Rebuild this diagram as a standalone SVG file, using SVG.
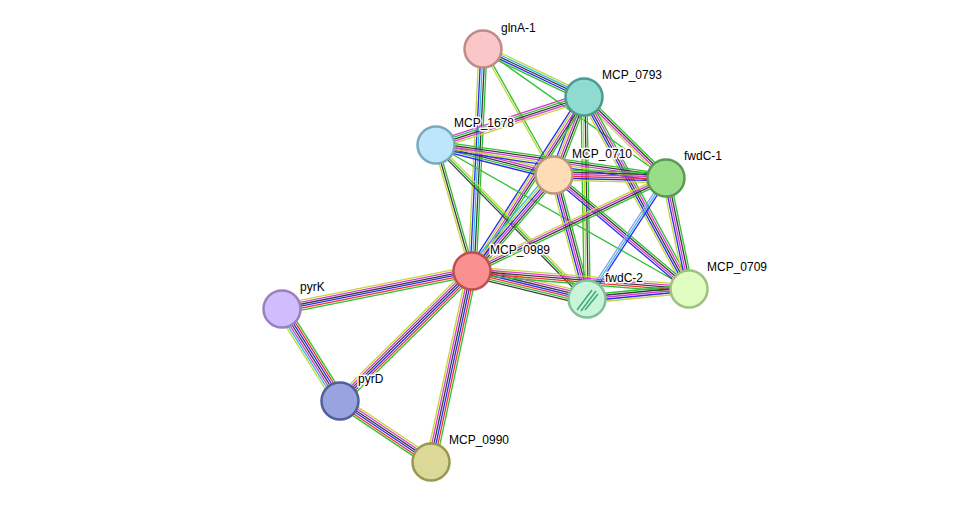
<svg xmlns="http://www.w3.org/2000/svg" width="976" height="507" viewBox="0 0 976 507">
<style>
line{stroke-width:1.3;fill:none}
.y{stroke:#c4d63a}.m{stroke:#d63cd6}.k{stroke:#3c3c3c}.b{stroke:#2a2af0}.r{stroke:#f03030}.g{stroke:#30c030}.c{stroke:#30c0e0}
circle{stroke-width:2.5}
text{font-family:"Liberation Sans",Arial,sans-serif;font-size:12px;fill:#000;paint-order:stroke;stroke:#fff;stroke-width:3px;stroke-linejoin:round}
</style>
<rect width="976" height="507" fill="#fff"/>
<g id="edges">
<g transform="translate(483,49) rotate(25.4)"><line class="y" x1="0" y1="-4" x2="111.8" y2="-4"/><line class="c" x1="0" y1="-2" x2="111.8" y2="-2"/><line class="k" x1="0" y1="0" x2="111.8" y2="0"/><line class="b" x1="0" y1="2" x2="111.8" y2="2"/><line class="g" x1="0" y1="4" x2="111.8" y2="4"/></g>
<g transform="translate(483,49) rotate(60.6)"><line class="g" x1="0" y1="-1" x2="144.6" y2="-1"/><line class="y" x1="0" y1="1" x2="144.6" y2="1"/></g>
<g transform="translate(483,49) rotate(92.8)"><line class="g" x1="0" y1="-4" x2="222.3" y2="-4"/><line class="k" x1="0" y1="-2" x2="222.3" y2="-2"/><line class="c" x1="0" y1="0" x2="222.3" y2="0"/><line class="b" x1="0" y1="2" x2="222.3" y2="2"/><line class="y" x1="0" y1="4" x2="222.3" y2="4"/></g>
<g transform="translate(483,49) rotate(35.2)"><line class="g" x1="0" y1="0" x2="223.9" y2="0"/></g>
<g transform="translate(584,97) rotate(162)"><line class="y" x1="0" y1="-4" x2="155.6" y2="-4"/><line class="m" x1="0" y1="-2" x2="155.6" y2="-2"/><line class="k" x1="0" y1="0" x2="155.6" y2="0"/><line class="g" x1="0" y1="2" x2="155.6" y2="2"/><line class="m" x1="0" y1="4" x2="155.6" y2="4"/></g>
<g transform="translate(584,97) rotate(111)"><line class="g" x1="0" y1="-4" x2="83.6" y2="-4"/><line class="k" x1="0" y1="-2" x2="83.6" y2="-2"/><line class="m" x1="0" y1="0" x2="83.6" y2="0"/><line class="y" x1="0" y1="2" x2="83.6" y2="2"/><line class="b" x1="0" y1="4" x2="83.6" y2="4"/></g>
<g transform="translate(584,97) rotate(44.6)"><line class="g" x1="0" y1="-3" x2="115.3" y2="-3"/><line class="k" x1="0" y1="-1" x2="115.3" y2="-1"/><line class="m" x1="0" y1="1" x2="115.3" y2="1"/><line class="y" x1="0" y1="3" x2="115.3" y2="3"/></g>
<g transform="translate(584,97) rotate(122.8)"><line class="g" x1="0" y1="-4" x2="206.9" y2="-4"/><line class="k" x1="0" y1="-2" x2="206.9" y2="-2"/><line class="m" x1="0" y1="0" x2="206.9" y2="0"/><line class="y" x1="0" y1="2" x2="206.9" y2="2"/><line class="b" x1="0" y1="4" x2="206.9" y2="4"/></g>
<g transform="translate(584,97) rotate(89.1)"><line class="g" x1="0" y1="-3" x2="202" y2="-3"/><line class="k" x1="0" y1="-1" x2="202" y2="-1"/><line class="y" x1="0" y1="1" x2="202" y2="1"/><line class="g" x1="0" y1="3" x2="202" y2="3"/></g>
<g transform="translate(584,97) rotate(61.3)"><line class="g" x1="0" y1="-4" x2="218.8" y2="-4"/><line class="m" x1="0" y1="-2" x2="218.8" y2="-2"/><line class="k" x1="0" y1="0" x2="218.8" y2="0"/><line class="b" x1="0" y1="2" x2="218.8" y2="2"/><line class="y" x1="0" y1="4" x2="218.8" y2="4"/></g>
<g transform="translate(436,145) rotate(14.3)"><line class="y" x1="0" y1="-4" x2="121.8" y2="-4"/><line class="m" x1="0" y1="-2" x2="121.8" y2="-2"/><line class="k" x1="0" y1="0" x2="121.8" y2="0"/><line class="g" x1="0" y1="2" x2="121.8" y2="2"/><line class="b" x1="0" y1="4" x2="121.8" y2="4"/></g>
<g transform="translate(436,145) rotate(8.2)"><line class="g" x1="0" y1="-4" x2="232.4" y2="-4"/><line class="k" x1="0" y1="-2" x2="232.4" y2="-2"/><line class="m" x1="0" y1="0" x2="232.4" y2="0"/><line class="y" x1="0" y1="2" x2="232.4" y2="2"/><line class="b" x1="0" y1="4" x2="232.4" y2="4"/></g>
<g transform="translate(436,145) rotate(74.1)"><line class="g" x1="0" y1="-2" x2="131" y2="-2"/><line class="k" x1="0" y1="0" x2="131" y2="0"/><line class="y" x1="0" y1="2" x2="131" y2="2"/></g>
<g transform="translate(436,145) rotate(45.6)"><line class="y" x1="0" y1="-2" x2="215.7" y2="-2"/><line class="g" x1="0" y1="0" x2="215.7" y2="0"/><line class="k" x1="0" y1="2" x2="215.7" y2="2"/></g>
<g transform="translate(436,145) rotate(29.6)"><line class="g" x1="0" y1="0" x2="291.1" y2="0"/></g>
<g transform="translate(554,175) rotate(1.5)"><line class="g" x1="0" y1="-5" x2="112" y2="-5"/><line class="k" x1="0" y1="-3" x2="112" y2="-3"/><line class="m" x1="0" y1="-1" x2="112" y2="-1"/><line class="r" x1="0" y1="1" x2="112" y2="1"/><line class="b" x1="0" y1="3" x2="112" y2="3"/><line class="y" x1="0" y1="5" x2="112" y2="5"/></g>
<g transform="translate(554,175) rotate(130.5)"><line class="g" x1="0" y1="-5" x2="126.2" y2="-5"/><line class="k" x1="0" y1="-3" x2="126.2" y2="-3"/><line class="m" x1="0" y1="-1" x2="126.2" y2="-1"/><line class="b" x1="0" y1="1" x2="126.2" y2="1"/><line class="y" x1="0" y1="3" x2="126.2" y2="3"/><line class="c" x1="0" y1="5" x2="126.2" y2="5"/></g>
<g transform="translate(554,175) rotate(75.1)"><line class="g" x1="0" y1="-4" x2="128.3" y2="-4"/><line class="k" x1="0" y1="-2" x2="128.3" y2="-2"/><line class="m" x1="0" y1="0" x2="128.3" y2="0"/><line class="b" x1="0" y1="2" x2="128.3" y2="2"/><line class="y" x1="0" y1="4" x2="128.3" y2="4"/></g>
<g transform="translate(554,175) rotate(40.2)"><line class="g" x1="0" y1="-3" x2="176.7" y2="-3"/><line class="k" x1="0" y1="-1" x2="176.7" y2="-1"/><line class="m" x1="0" y1="1" x2="176.7" y2="1"/><line class="b" x1="0" y1="3" x2="176.7" y2="3"/></g>
<g transform="translate(666,178) rotate(154.4)"><line class="g" x1="0" y1="-3" x2="215.1" y2="-3"/><line class="k" x1="0" y1="-1" x2="215.1" y2="-1"/><line class="m" x1="0" y1="1" x2="215.1" y2="1"/><line class="y" x1="0" y1="3" x2="215.1" y2="3"/></g>
<g transform="translate(666,178) rotate(123.1)"><line class="b" x1="0" y1="-2" x2="144.5" y2="-2"/><line class="c" x1="0" y1="0" x2="144.5" y2="0"/><line class="b" x1="0" y1="2" x2="144.5" y2="2" style="stroke:#9a9af5"/></g>
<g transform="translate(666,178) rotate(78.3)"><line class="g" x1="0" y1="-4" x2="113.4" y2="-4"/><line class="k" x1="0" y1="-2" x2="113.4" y2="-2"/><line class="m" x1="0" y1="0" x2="113.4" y2="0"/><line class="b" x1="0" y1="2" x2="113.4" y2="2"/><line class="y" x1="0" y1="4" x2="113.4" y2="4"/></g>
<g transform="translate(472,271) rotate(13.7)"><line class="y" x1="0" y1="-6" x2="118.4" y2="-6"/><line class="m" x1="0" y1="-4" x2="118.4" y2="-4"/><line class="k" x1="0" y1="-2" x2="118.4" y2="-2"/><line class="b" x1="0" y1="0" x2="118.4" y2="0"/><line class="r" x1="0" y1="2" x2="118.4" y2="2"/><line class="g" x1="0" y1="4" x2="118.4" y2="4"/><line class="k" x1="0" y1="6" x2="118.4" y2="6"/></g>
<g transform="translate(472,271) rotate(4.7)"><line class="y" x1="0" y1="-4" x2="217.7" y2="-4"/><line class="m" x1="0" y1="-2" x2="217.7" y2="-2"/><line class="k" x1="0" y1="0" x2="217.7" y2="0"/><line class="r" x1="0" y1="2" x2="217.7" y2="2"/><line class="g" x1="0" y1="4" x2="217.7" y2="4"/></g>
<g transform="translate(472,271) rotate(168.7)"><line class="y" x1="0" y1="5" x2="193.8" y2="5"/><line class="m" x1="0" y1="3" x2="193.8" y2="3"/><line class="k" x1="0" y1="1" x2="193.8" y2="1"/><line class="b" x1="0" y1="-1" x2="193.8" y2="-1"/><line class="r" x1="0" y1="-3" x2="193.8" y2="-3"/><line class="g" x1="0" y1="-5" x2="193.8" y2="-5"/></g>
<g transform="translate(472,271) rotate(135.4)"><line class="y" x1="0" y1="5" x2="185.3" y2="5"/><line class="m" x1="0" y1="3" x2="185.3" y2="3"/><line class="k" x1="0" y1="1" x2="185.3" y2="1"/><line class="b" x1="0" y1="-1" x2="185.3" y2="-1"/><line class="r" x1="0" y1="-3" x2="185.3" y2="-3"/><line class="g" x1="0" y1="-5" x2="185.3" y2="-5"/></g>
<g transform="translate(472,271) rotate(102.1)"><line class="y" x1="0" y1="5" x2="195.4" y2="5"/><line class="m" x1="0" y1="3" x2="195.4" y2="3"/><line class="k" x1="0" y1="1" x2="195.4" y2="1"/><line class="b" x1="0" y1="-1" x2="195.4" y2="-1"/><line class="r" x1="0" y1="-3" x2="195.4" y2="-3"/><line class="g" x1="0" y1="-5" x2="195.4" y2="-5"/></g>
<g transform="translate(587,299) rotate(-5.6)"><line class="g" x1="0" y1="-4" x2="102.5" y2="-4"/><line class="k" x1="0" y1="-2" x2="102.5" y2="-2"/><line class="m" x1="0" y1="0" x2="102.5" y2="0"/><line class="b" x1="0" y1="2" x2="102.5" y2="2"/><line class="y" x1="0" y1="4" x2="102.5" y2="4"/></g>
<g transform="translate(282,309) rotate(57.8)"><line class="y" x1="0" y1="6" x2="108.8" y2="6"/><line class="c" x1="0" y1="4" x2="108.8" y2="4"/><line class="m" x1="0" y1="2" x2="108.8" y2="2"/><line class="k" x1="0" y1="0" x2="108.8" y2="0"/><line class="b" x1="0" y1="-2" x2="108.8" y2="-2"/><line class="r" x1="0" y1="-4" x2="108.8" y2="-4"/><line class="g" x1="0" y1="-6" x2="108.8" y2="-6"/></g>
<g transform="translate(340,401) rotate(33.8)"><line class="y" x1="0" y1="-5" x2="109.6" y2="-5"/><line class="m" x1="0" y1="-3" x2="109.6" y2="-3"/><line class="k" x1="0" y1="-1" x2="109.6" y2="-1"/><line class="b" x1="0" y1="1" x2="109.6" y2="1"/><line class="r" x1="0" y1="3" x2="109.6" y2="3"/><line class="g" x1="0" y1="5" x2="109.6" y2="5"/></g>
</g>
<g id="glnA-1"><circle cx="483" cy="49" r="18.5" fill="#f9c7c7" stroke="#c08a8a"/><text x="501" y="32">glnA-1</text></g>
<g id="MCP_0793"><circle cx="584" cy="97" r="18.5" fill="#8fdbd0" stroke="#4a9c90"/><text x="602" y="79">MCP_0793</text></g>
<g id="MCP_1678"><circle cx="436" cy="145" r="18.5" fill="#bde5fb" stroke="#7aa8c0"/><text x="454" y="127">MCP_1678</text></g>
<g id="MCP_0710"><circle cx="554" cy="175" r="18.5" fill="#fddcb8" stroke="#b89a7a"/><text x="572" y="158">MCP_0710</text></g>
<g id="fwdC-1"><circle cx="666" cy="178" r="18.5" fill="#99dd88" stroke="#5a9a55"/><text x="684" y="160">fwdC-1</text></g>
<g id="MCP_0989"><circle cx="472" cy="271" r="18.5" fill="#fb9090" stroke="#c05050"/><text x="490" y="254">MCP_0989</text></g>
<g id="fwdC-2"><circle cx="587" cy="299" r="18.5" fill="#c8f5d8" stroke="#80c098"/><path d="M577 310 L592 290 M581 311 L596 291 M585 310 L598 294" stroke="#40a880" stroke-width="1.5" fill="none"/><text x="605" y="282">fwdC-2</text></g>
<g id="MCP_0709"><circle cx="689" cy="289" r="18.5" fill="#e0fcc0" stroke="#a0c080"/><text x="707" y="271">MCP_0709</text></g>
<g id="pyrK"><circle cx="282" cy="309" r="18.5" fill="#d0bdfb" stroke="#9a80c0"/><text x="300" y="291">pyrK</text></g>
<g id="pyrD"><circle cx="340" cy="401" r="18.5" fill="#98a4e0" stroke="#50609a"/><text x="358" y="383">pyrD</text></g>
<g id="MCP_0990"><circle cx="431" cy="462" r="18.5" fill="#dcd898" stroke="#9a9850"/><text x="449" y="444">MCP_0990</text></g>
</svg>
